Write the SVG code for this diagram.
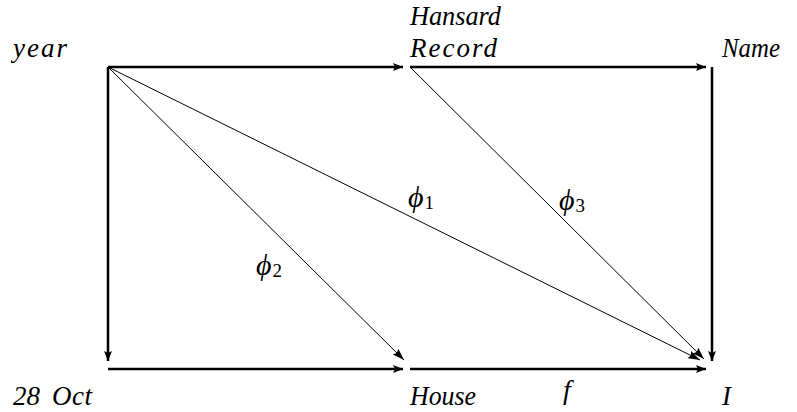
<svg xmlns="http://www.w3.org/2000/svg" width="797" height="412" viewBox="0 0 797 412">
<style>
.k{stroke:#000;stroke-width:2.5;fill:none}
.d{stroke:#000;stroke-width:1;fill:none}
</style>
<defs>
<marker id="ah" viewBox="0 0 10 8" refX="10" refY="4" markerWidth="10" markerHeight="8" markerUnits="userSpaceOnUse" orient="auto">
<path d="M0,0 L10,4 L0,8 L2,4 Z" fill="#000"/>
</marker>
<marker id="ad" viewBox="0 0 12 8" refX="12" refY="4" markerWidth="12" markerHeight="8" markerUnits="userSpaceOnUse" orient="auto">
<path d="M0,0 L12,4 L0,8 L2,4 Z" fill="#000"/>
</marker>
</defs>
<g id="connectors">
<line class="k" x1="108" y1="67" x2="403" y2="67" marker-end="url(#ah)"/>
<line class="k" x1="410" y1="67" x2="706" y2="67" marker-end="url(#ah)"/>
<line class="k" x1="108" y1="67" x2="108" y2="361" marker-end="url(#ah)"/>
<line class="k" x1="712" y1="67" x2="712" y2="361" marker-end="url(#ah)"/>
<line class="k" x1="108" y1="369" x2="403" y2="369" marker-end="url(#ah)"/>
<line class="k" x1="410" y1="369" x2="706" y2="369" marker-end="url(#ah)"/>
<line class="d" x1="108" y1="67" x2="404" y2="360" marker-end="url(#ad)"/>
<line class="d" x1="108" y1="67" x2="700" y2="360" marker-end="url(#ad)"/>
<line class="d" x1="410" y1="67" x2="704" y2="359" marker-end="url(#ad)"/>
<text x="408" y="207" font-family="Liberation Serif" font-size="30" font-style="italic">ϕ<tspan font-size="19" font-style="normal" dx="1" dy="2">1</tspan></text>
<text x="256" y="275" font-family="Liberation Serif" font-size="30" font-style="italic">ϕ<tspan font-size="19" font-style="normal" dx="1" dy="2">2</tspan></text>
<text x="559" y="210" font-family="Liberation Serif" font-size="30" font-style="italic">ϕ<tspan font-size="19" font-style="normal" dx="1" dy="2">3</tspan></text>
<text x="563" y="399" font-family="Liberation Serif" font-size="28" font-style="italic">f</text>
</g>
<g id="year"><text x="13" y="57" font-family="Liberation Serif" font-size="27" font-style="italic" textLength="54" lengthAdjust="spacing">year</text></g>
<g id="hansard"><text x="410" y="25" font-family="Liberation Serif" font-size="27" font-style="italic" textLength="91" lengthAdjust="spacingAndGlyphs">Hansard</text><text x="410" y="57" font-family="Liberation Serif" font-size="27" font-style="italic" textLength="87" lengthAdjust="spacing">Record</text></g>
<g id="name"><text x="722" y="57" font-family="Liberation Serif" font-size="27" font-style="italic" textLength="58" lengthAdjust="spacingAndGlyphs">Name</text></g>
<g id="oct"><text x="13" y="405" font-family="Liberation Serif" font-size="27" font-style="italic">28</text><text x="52" y="405" font-family="Liberation Serif" font-size="27" font-style="italic" textLength="40" lengthAdjust="spacing">Oct</text></g>
<g id="house"><text x="410" y="405" font-family="Liberation Serif" font-size="27" font-style="italic" textLength="66" lengthAdjust="spacingAndGlyphs">House</text></g>
<g id="i"><text x="722" y="405" font-family="Liberation Serif" font-size="27" font-style="italic">I</text></g>
</svg>
